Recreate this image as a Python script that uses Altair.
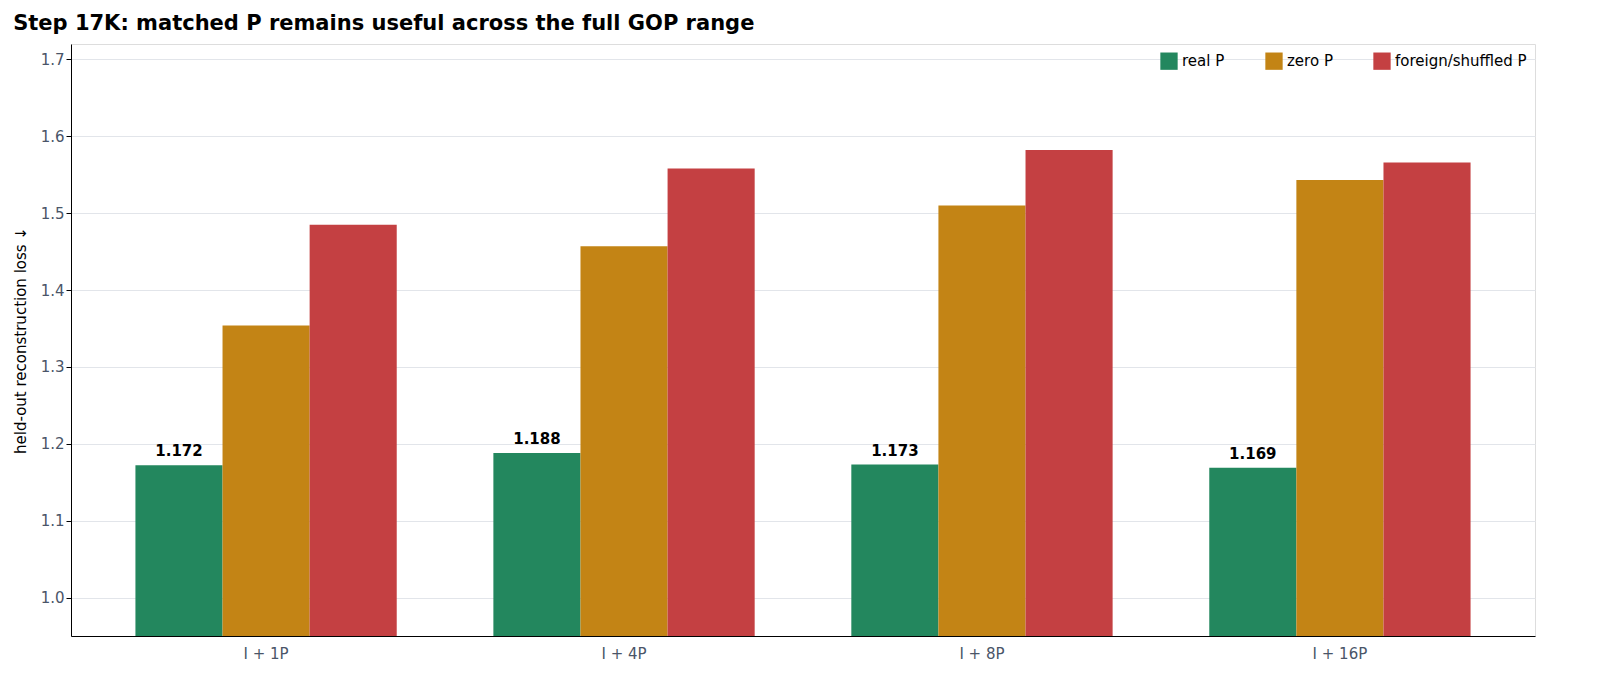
import altair as alt
import pandas as pd

groups = ["I + 1P", "I + 4P", "I + 8P", "I + 16P"]
series = ["real P", "zero P", "foreign/shuffled P"]
real_p = [1.172, 1.188, 1.173, 1.169]
zero_p = [1.354, 1.457, 1.510, 1.543]
foreign_p = [1.485, 1.558, 1.582, 1.566]
colors = ["#23875e", "#c38415", "#c44042"]

rows = []
for i, g in enumerate(groups):
    for s, vals in zip(series, [real_p, zero_p, foreign_p]):
        rows.append({"group": g, "series": s, "value": vals[i], "label": f"{vals[i]:.3f}" if s == "real P" else ""})
df = pd.DataFrame(rows)

base = alt.Chart(df).encode(
    x=alt.X("group:N", sort=groups, title=None,
            scale=alt.Scale(paddingInner=0.27, paddingOuter=0.18),
            axis=alt.Axis(labelAngle=0, ticks=False, labelFontSize=15, labelColor="#4a5568",
                          labelPadding=10, domainColor="#000", grid=False)),
    xOffset=alt.XOffset("series:N", sort=series),
)
y = alt.Y("value:Q", scale=alt.Scale(domain=[0.95, 1.72], zero=False, clamp=True),
          title="held-out reconstruction loss ↓",
          axis=alt.Axis(values=[1.0, 1.1, 1.2, 1.3, 1.4, 1.5, 1.6, 1.7], format=".1f",
                        labelFontSize=15, labelColor="#4a5568", titleFontSize=15,
                        titleFontWeight="normal", titleColor="#000", gridColor="#e2e5ea",
                        domainColor="#000", tickColor="#000", titlePadding=12))
bars = base.mark_bar().encode(
    y=y,
    y2=alt.value(592),
    color=alt.Color("series:N", sort=series, scale=alt.Scale(domain=series, range=colors),
                    legend=alt.Legend(title=None, orient="top-right", direction="horizontal",
                                      symbolType="square", symbolSize=300, labelFontSize=15,
                                      columnPadding=40, offset=8, symbolStrokeWidth=0)),
)
text = base.mark_text(dy=-14, fontWeight="bold", fontSize=15, color="#000").encode(
    y=y, text="label:N")

chart = (bars + text).properties(
    width=1464, height=592,
    title=alt.TitleParams("Step 17K: matched P remains useful across the full GOP range",
                          anchor="start", fontSize=21, fontWeight="bold", offset=10),
).configure_view(stroke=None).configure(font="DejaVu Sans")

chart.save("out.html", embed_options={"renderer": "svg", "actions": False})
